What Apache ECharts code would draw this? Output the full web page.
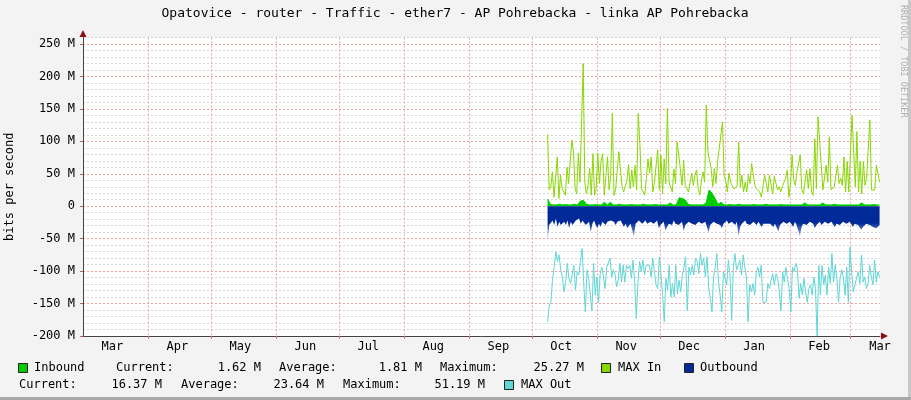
<!DOCTYPE html>
<html>
<head>
<meta charset="utf-8">
<script src="https://cdn.jsdelivr.net/npm/echarts@6/dist/echarts.min.js"></script>
<style>
  html, body { margin: 0; padding: 0; background: #f3f3f3; }
  #chart { width: 911px; height: 400px; }
</style>
</head>
<body>
<div id="chart"></div>
<script>
// days counted from 1 Mar; month grid + labels (mid-month)
const monthStarts = [31, 61, 92, 122, 153, 184, 214, 245, 275, 306, 337, 366];
const monthLabelDays = [14, 45, 75, 106, 136, 167, 198, 228, 259, 289, 320, 351, 380];
const monthNames = ['Mar', 'Apr', 'May', 'Jun', 'Jul', 'Aug', 'Sep', 'Oct', 'Nov', 'Dec', 'Jan', 'Feb', 'Mar'];
const yTicks = [-200, -150, -100, -50, 0, 50, 100, 150, 200, 250];

// data runs from ~9 Oct to ~14 Mar, values in Mbit/s
const dataStart = 221.5;
const dataEnd = 379.8;

const inbound = [
  11, 2.5, 2, 2, 3, 2, 2.5, 2, 2, 3,
  2, 8, 9, 3, 2, 2, 2.5, 2, 2, 6,
  2, 6, 2, 2, 3, 2, 2, 2, 2.5, 2,
  2, 2, 3, 2, 2, 2, 2.5, 2, 2, 2,
  2, 5, 2, 2, 13, 12, 10, 3, 2, 2,
  2, 2, 2, 5, 25, 20, 12, 3, 6, 2,
  2, 2.5, 2, 2, 3, 2, 2, 2, 2, 2.5,
  2, 2, 2, 3, 2, 2, 2, 2, 2.5, 2,
  2, 2, 2, 2, 2, 2, 5, 2, 2, 2,
  2, 2, 5, 2, 2, 2, 3, 2, 2, 2,
  2, 2, 2, 2, 2, 5, 2, 2, 2, 2.5,
  2, 2
];

const maxIn = [
  111, 25, 30, 53, 14, 14, 76, 12, 48, 27, 22, 17, 60, 35, 37, 102, 84, 27, 19, 82,
  37, 37, 220, 37, 19, 32, 58, 17, 81, 17, 27, 82, 35, 69, 81, 17, 17, 76, 25, 48,
  143, 17, 25, 27, 84, 84, 30, 22, 22, 40, 64, 27, 56, 30, 63, 25, 143, 97, 27, 22,
  17, 43, 73, 51,
  76, 22, 37, 35, 87, 25, 79, 19, 73, 35, 151, 37, 35, 22, 57, 35, 99, 99, 58, 32,
  71, 32, 30, 22, 22, 51, 32, 48, 56, 27, 17, 40, 53, 37, 156, 84, 84, 58, 30, 58,
  35, 69, 89, 91, 130, 46, 40, 22, 51, 37, 32, 27, 27, 30, 99, 30, 48, 22, 37, 22,
  48, 35, 66, 69, 32, 27, 25, 22, 14,
  30, 48, 48, 22, 48, 48, 19, 46, 46, 25, 30, 22, 30, 37, 43, 56, 14, 35, 79, 40,
  32, 53, 53, 79, 25, 19, 19, 56, 27, 58, 22, 17, 104, 27, 138, 138, 63, 25, 25, 63,
  37, 107, 25, 22, 30, 27, 63, 35, 43, 32, 76, 22, 69, 22, 22, 140, 140, 30, 115, 22,
  69, 19, 69, 32, 43, 43, 133, 25, 25, 25, 63, 66, 37
];

const outbound = [
  -52, -29, -27, -22, -29, -19, -32, -24, -29, -27, -24, -29, -22, -34, -24, -29, -27, -22, -24, -19,
  -27, -22, -24, -29, -27, -24, -40, -27, -22, -29, -34, -27, -32, -24, -27, -29, -24, -27, -22, -24,
  -24, -29, -24, -27, -22, -27, -32, -27, -34, -32, -27, -29, -47, -27, -24, -22, -24, -27, -24, -22,
  -27, -29, -24, -27,
  -27, -24, -22, -34, -29, -27, -24, -37, -32, -27, -24, -29, -22, -27, -24, -29, -27, -24, -38, -29,
  -27, -24, -22, -27, -24, -29, -27, -24, -22, -27, -29, -24, -32, -40, -29, -27, -24, -22, -27, -24,
  -29, -34, -27, -24, -22, -27, -29, -24, -27, -29, -24, -46, -32, -27, -24, -22, -27, -24, -29, -27,
  -24, -27, -29, -24, -27, -32, -27,
  -29, -27, -24, -27, -29, -32, -27, -24, -39, -29, -27, -24, -22, -27, -29, -24, -27, -32, -24, -29,
  -27, -46, -32, -27, -24, -29, -27, -24, -22, -27, -34, -29, -27, -24, -29, -27, -24, -22, -27, -29,
  -24, -27, -32, -27, -24, -29, -27, -24, -22, -27, -29, -24, -27, -32, -27, -24, -29, -27, -36, -32,
  -29, -27, -24, -29, -27, -32, -29, -34, -36, -29
];

const maxOut = [
  -178, -153, -148, -114, -94, -70, -85, -75, -98, -109, -132, -117, -88, -111, -119, -121, -91, -129, -101, -106,
  -85, -65, -119, -163, -98, -111, -109, -161, -88, -137, -109, -148, -104, -94, -109, -127, -94, -94, -80, -109,
  -98, -104, -124, -114, -88, -117, -91, -117, -91, -96, -91, -111, -83, -117, -173, -117, -85, -101, -83, -106,
  -91, -94, -91, -109, -80, -101,
  -121, -127, -78, -104, -137, -178, -111, -129, -91, -140, -119, -140, -91, -135, -114, -132, -106, -94, -78, -161,
  -94, -106, -91, -106, -80, -85, -104, -73, -91, -80, -109, -78, -124, -142, -163, -109, -94, -73, -117, -137,
  -163, -101, -111, -121, -83, -106, -176, -94, -73, -98, -91, -83, -106, -75, -94, -109, -178, -121, -132, -119,
  -137, -101, -94, -109, -91, -148, -148,
  -148, -119, -127, -114, -104, -121, -104, -111, -132, -161, -101, -117, -94, -111, -127, -163, -94, -101, -88, -96,
  -142, -119, -137, -111, -132, -148, -127, -121, -137, -109, -127, -200, -91, -137, -91, -121, -106, -137, -94, -119,
  -73, -117, -91, -111, -148, -111, -98, -111, -137, -94, -148, -63, -101, -132, -121, -111, -101, -119, -75, -117,
  -109, -127, -119, -91, -109, -121, -83, -117, -101, -109
];

const colors = {
  inbound: '#00cc00',
  maxIn: '#88d800',
  outbound: '#002a97',
  maxOut: '#5fd6d6'
};

// spread a list of readings evenly over the data period
function spread(vals) {
  const step = (dataEnd - dataStart) / (vals.length - 1);
  return vals.map((v, i) => [dataStart + i * step, v]);
}

const mono = '"DejaVu Sans Mono", monospace';
const legendFont = '12px ' + mono;

function txt(x, y, text, align) {
  return { type: 'text', x: x, y: y, silent: true,
    style: { text: text, font: legendFont, fill: '#000', align: align || 'left', verticalAlign: 'middle' } };
}
function box(x, y, color) {
  return { type: 'rect', silent: true, shape: { x: x + 0.5, y: y + 0.5, width: 9, height: 9 },
    style: { fill: color, stroke: '#222', lineWidth: 1 } };
}

const chart = echarts.init(document.getElementById('chart'));

const option = {
  animation: false,
  backgroundColor: '#f3f3f3',
  grid: {
    left: 83, right: 31, top: 37.5, bottom: 64,
    outerBoundsMode: 'none',
    show: true, backgroundColor: '#ffffff', borderWidth: 0
  },
  xAxis: {
    type: 'value',
    min: 0,
    max: 380,
    axisLine: { show: true, onZero: false, lineStyle: { color: '#444', width: 1 } },
    axisTick: { show: true, customValues: monthStarts, length: 3, lineStyle: { color: '#e07070' } },
    axisLabel: {
      customValues: monthLabelDays,
      formatter: v => monthNames[monthLabelDays.indexOf(Math.round(v))] || '',
      margin: 5,
      color: '#000',
      fontFamily: mono,
      fontSize: 12
    },
    splitLine: { show: true, lineStyle: { color: '#f0a0a0', type: [2, 2], width: 1 } }
  },
  yAxis: [
    {
      // minor 10 M grid
      type: 'value', position: 'left', min: -200, max: 260, interval: 10,
      axisLine: { show: false }, axisTick: { show: false }, axisLabel: { show: false },
      splitLine: { show: true, lineStyle: { color: '#d6d6d6', type: [2, 2], width: 1 } }
    },
    {
      type: 'value', position: 'left', min: -200, max: 260, interval: 50,
      name: 'bits per second',
      nameLocation: 'middle',
      nameGap: 67,
      nameTextStyle: { fontFamily: mono, fontSize: 12, color: '#000' },
      axisLine: { show: true, onZero: false, lineStyle: { color: '#444', width: 1 } },
      axisTick: { show: true, customValues: yTicks, length: 3, lineStyle: { color: '#c06060' } },
      axisLabel: {
        customValues: yTicks,
        formatter: v => (v === 0 ? '0' : v + ' M'),
        margin: 8,
        color: '#000',
        fontFamily: mono,
        fontSize: 12
      },
      splitLine: { show: true, lineStyle: { color: '#f0a0a0', type: [2, 2], width: 1 } }
    }
  ],
  series: [
    {
      name: 'Inbound', type: 'line', yAxisIndex: 1, data: spread(inbound),
      showSymbol: false, lineStyle: { color: colors.inbound, width: 1 },
      areaStyle: { color: colors.inbound, opacity: 1 }, z: 2
    },
    {
      name: 'Outbound', type: 'line', yAxisIndex: 1, data: spread(outbound),
      showSymbol: false, lineStyle: { width: 0 },
      areaStyle: {
        opacity: 1,
        color: new echarts.graphic.LinearGradient(0, 0, 0, 1, [
          { offset: 0, color: colors.outbound },
          { offset: 0.5, color: colors.outbound },
          { offset: 1, color: '#c8d2ee' }
        ])
      }, z: 2
    },
    {
      name: 'MAX In', type: 'line', yAxisIndex: 1, data: spread(maxIn),
      showSymbol: false, lineStyle: { color: colors.maxIn, width: 1 }, z: 3
    },
    {
      name: 'MAX Out', type: 'line', yAxisIndex: 1, data: spread(maxOut),
      showSymbol: false, lineStyle: { color: colors.maxOut, width: 1 }, z: 3
    }
  ],
  graphic: [
    { type: 'text', x: 455, y: 14, silent: true,
      style: { text: 'Opatovice - router - Traffic - ether7 - AP Pohrebacka - linka AP Pohrebacka',
        font: '13px ' + mono, fill: '#000', align: 'center', verticalAlign: 'middle' } },
    { type: 'text', x: 903, y: 5, rotation: -Math.PI / 2, silent: true,
      style: { text: 'RRDTOOL / TOBI OETIKER', font: '8.5px ' + mono, fill: '#b0b0b0', align: 'left', verticalAlign: 'middle' } },
    // axis arrows
    { type: 'polygon', silent: true, shape: { points: [[83, 30], [79.5, 37], [86.5, 37]] }, style: { fill: '#8b1010' } },
    { type: 'polygon', silent: true, shape: { points: [[888, 336], [881, 332.5], [881, 339.5]] }, style: { fill: '#8b1010' } },
    // frame
    { type: 'rect', silent: true, shape: { x: 908, y: 0, width: 3, height: 400 }, style: { fill: '#c8c8c8' } },
    { type: 'rect', silent: true, shape: { x: 0, y: 397, width: 911, height: 3 }, style: { fill: '#a8a8a8' } },
    // legend line 1
    box(18, 363, colors.inbound),
    txt(34, 368, 'Inbound'),
    txt(116, 368, 'Current:'),
    txt(261, 368, '1.62 M', 'right'),
    txt(279, 368, 'Average:'),
    txt(422, 368, '1.81 M', 'right'),
    txt(440, 368, 'Maximum:'),
    txt(584, 368, '25.27 M', 'right'),
    box(601, 363, colors.maxIn),
    txt(618, 368, 'MAX In'),
    box(684, 363, colors.outbound),
    txt(700, 368, 'Outbound'),
    // legend line 2
    txt(19, 385, 'Current:'),
    txt(162, 385, '16.37 M', 'right'),
    txt(181, 385, 'Average:'),
    txt(324, 385, '23.64 M', 'right'),
    txt(343, 385, 'Maximum:'),
    txt(485, 385, '51.19 M', 'right'),
    box(504, 380, colors.maxOut),
    txt(521, 385, 'MAX Out')
  ]
};

chart.setOption(option);
</script>
</body>
</html>
